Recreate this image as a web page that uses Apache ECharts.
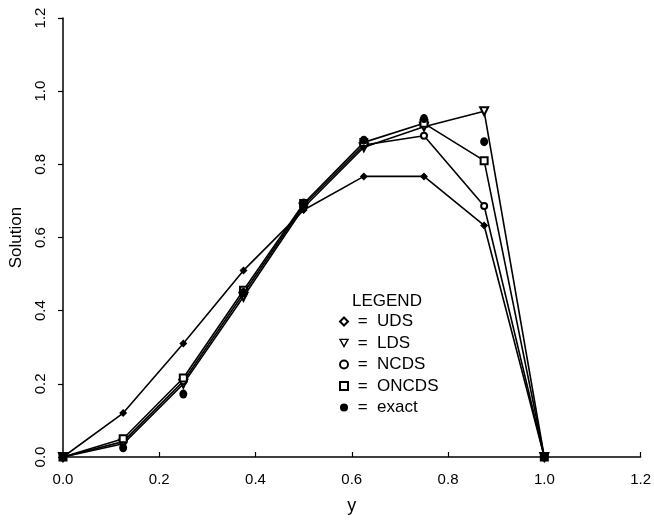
<!DOCTYPE html>
<html>
<head>
<meta charset="utf-8">
<script src="https://cdn.jsdelivr.net/npm/echarts@6/dist/echarts.min.js"></script>
<style>html,body{margin:0;padding:0;background:#fff}#c{width:654px;height:520px}</style>
</head>
<body>
<div id="c"></div>
<script>
var yPos = [0, 0.125, 0.25, 0.375, 0.5, 0.625, 0.75, 0.875, 1.0];
var uds   = [0, 0.12, 0.31, 0.51, 0.675, 0.767, 0.767, 0.633, 0];
var lds   = [0, 0.036, 0.2, 0.438, 0.682, 0.847, 0.903, 0.945, 0];
var ncds  = [0, 0.042, 0.207, 0.447, 0.688, 0.853, 0.878, 0.686, 0];
var oncds = [0, 0.05, 0.216, 0.456, 0.693, 0.86, 0.912, 0.81, 0];
var exact = [0, 0.025, 0.172, 0.45, 0.694, 0.866, 0.925, 0.862, 0];
var ticks = [0, 0.2, 0.4, 0.6, 0.8, 1.0, 1.2];

function pairs(v){ return yPos.map(function(x,i){ return [x, v[i]]; }); }
var FONT = 'Liberation Sans';

function lineSeries(name, vals, symbol, size, rot){
  return {
    name: name, type: 'line', data: pairs(vals),
    symbol: symbol, symbolSize: size, symbolRotate: rot || 0,
    showSymbol: true,
    lineStyle: {color: '#000', width: 1.6},
    itemStyle: {color: '#000', borderColor: '#000', borderWidth: 1.4, opacity: 1},
    emphasis: {disabled: true}, animation: false
  };
}

var chart = echarts.init(document.getElementById('c'), null, {renderer: 'canvas'});
chart.setOption({
  animation: false,
  backgroundColor: '#fff',
  grid: {left: 58, right: 10, top: 18, bottom: 58},
  title: {
    text: 'LEGEND', left: 352, top: 293, padding: 0,
    textStyle: {fontFamily: FONT, fontSize: 17, fontWeight: 'normal', color: '#000'}
  },
  legend: {
    orient: 'vertical', left: 339, top: 312, padding: 0,
    itemWidth: 8, itemHeight: 8, itemGap: 2.5,
    lineStyle: {opacity: 0},
    formatter: ' =  {name}',
    textStyle: {fontFamily: FONT, fontSize: 17, color: '#000', lineHeight: 19},
    data: [
      {name: 'UDS', icon: 'emptyDiamond'},
      {name: 'LDS', icon: 'path://M0,0L10,0L5,9Z',
        itemStyle: {color: '#fff', borderColor: '#000', borderWidth: 1.4}},
      {name: 'NCDS', icon: 'emptyCircle'},
      {name: 'ONCDS', icon: 'emptyRect'},
      {name: 'exact', icon: 'circle'}
    ],
    selectedMode: false
  },
  xAxis: {
    type: 'value', min: 0, max: 1.2, interval: 0.2,
    name: 'y', nameLocation: 'middle', nameGap: 40,
    nameTextStyle: {fontFamily: FONT, fontSize: 18, color: '#000'},
    axisLine: {lineStyle: {color: '#000', width: 1.5}},
    axisTick: {inside: true, length: 5, lineStyle: {color: '#000', width: 1.2}},
    axisLabel: {fontFamily: FONT, fontSize: 15, color: '#000', margin: 15,
      formatter: function(v){ return v.toFixed(1); }},
    splitLine: {show: false}
  },
  yAxis: {
    type: 'value', min: 0, max: 1.2, interval: 0.2,
    name: 'Solution', nameLocation: 'middle', nameGap: 38, nameRotate: 90,
    nameTextStyle: {fontFamily: FONT, fontSize: 17, color: '#000'},
    axisLine: {show: true, lineStyle: {color: '#000', width: 1.5}},
    axisTick: {show: true, inside: false, length: 5, lineStyle: {color: '#000', width: 1.2}},
    axisLabel: {fontFamily: FONT, fontSize: 15, color: '#000', rotate: 90, margin: 15,
      formatter: function(v){ return v.toFixed(1); }},
    splitLine: {show: false}
  },
  series: [
    lineSeries('UDS', uds, 'diamond', 6),
    lineSeries('LDS', lds, 'emptyTriangle', 8, 180),
    lineSeries('NCDS', ncds, 'emptyCircle', 6),
    lineSeries('ONCDS', oncds, 'emptyRect', 7),
    {
      name: 'exact', type: 'scatter', data: pairs(exact),
      symbol: 'circle', symbolSize: [8, 9], z: 5,
      itemStyle: {color: '#000', opacity: 1}, emphasis: {disabled: true}
    }
  ]
});
</script>
</body>
</html>
